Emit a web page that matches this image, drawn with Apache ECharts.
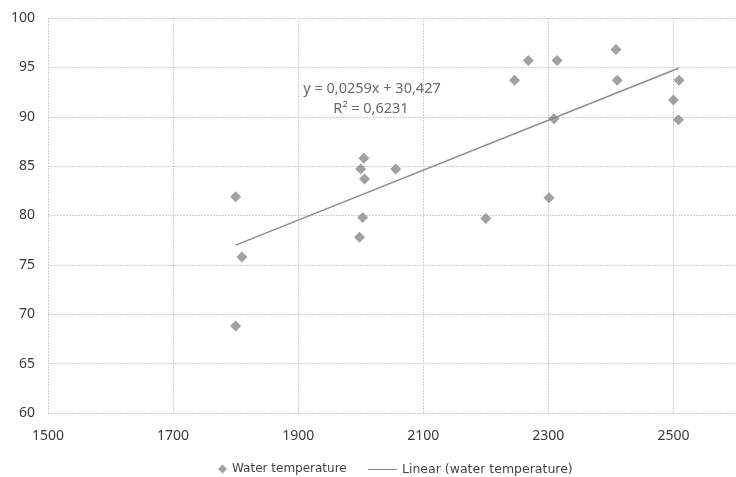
<!DOCTYPE html>
<html>
<head>
<meta charset="utf-8">
<script src="https://cdn.jsdelivr.net/npm/echarts@6/dist/echarts.min.js"></script>
<style>
html,body{margin:0;padding:0;background:#fff;}
#c{width:736px;height:477px;}
</style>
</head>
<body>
<div id="c"></div>
<script>
// Data
const seriesName = 'Water temperature';
const trendName = 'Linear (water temperature)';
const sizes = [1800, 1810, 1800, 2005, 2000, 2006, 2003, 1998, 2056, 2200, 2246, 2268, 2314, 2309, 2301, 2408, 2410, 2509, 2500, 2508];
const temps = [81.9, 75.8, 68.8, 85.8, 84.7, 83.7, 79.8, 77.8, 84.7, 79.7, 93.7, 95.7, 95.7, 89.8, 81.8, 96.8, 93.7, 93.7, 91.7, 89.7];
const trendX = [1800, 2508];
const trendY = [77.0, 94.9];
const equationText = 'y = 0,0259x + 30,427';
const r2Text = 'R² = 0,6231';
const xTicks = [1500, 1700, 1900, 2100, 2300, 2500];
const yTicks = [60, 65, 70, 75, 80, 85, 90, 95, 100];

const points = sizes.map((x, i) => [x, temps[i]]);
const trend = trendX.map((x, i) => [x, trendY[i]]);

const chart = echarts.init(document.getElementById('c'), null, {renderer: 'canvas'});
const font = 'Noto Sans';
const gridLine = {show: true, lineStyle: {color: '#cfcfcf', type: [2, 1], width: 1}};

chart.setOption({
  backgroundColor: '#ffffff',
  animation: false,
  grid: {left: 48, top: 18, right: -7, bottom: 64, containLabel: false},
  xAxis: {
    type: 'value',
    min: xTicks[0], max: 2600, interval: 200,
    axisLine: {show: false}, axisTick: {show: false},
    splitLine: gridLine,
    axisLabel: {color: '#3a3a3a', fontFamily: font, fontSize: 14, margin: 16, showMaxLabel: false,
      formatter: v => xTicks.includes(v) ? String(v) : ''}
  },
  yAxis: {
    type: 'value',
    min: yTicks[0], max: yTicks[yTicks.length - 1], interval: 5,
    axisLine: {show: false}, axisTick: {show: false},
    splitLine: gridLine,
    axisLabel: {color: '#3a3a3a', fontFamily: font, fontSize: 14, margin: 13}
  },
  legend: [
    {
      data: [{name: seriesName, icon: 'diamond'}],
      left: 213, top: 458, itemWidth: 9, itemHeight: 9, itemGap: 0,
      textStyle: {color: '#444', fontFamily: 'DejaVu Sans', fontSize: 12}
    },
    {
      data: [{name: trendName, icon: 'rect'}],
      left: 363, top: 458, itemWidth: 29, itemHeight: 1,
      textStyle: {color: '#444', fontFamily: 'DejaVu Sans', fontSize: 12.5}
    }
  ],
  series: [
    {
      name: seriesName, type: 'scatter', data: points,
      symbol: 'diamond', symbolSize: 11,
      itemStyle: {color: '#8a8a8a'}, z: 3
    },
    {
      name: trendName, type: 'line', data: trend,
      showSymbol: false, symbol: 'none',
      lineStyle: {color: '#8c8c8c', width: 1.6},
      itemStyle: {color: '#8c8c8c'}, z: 2
    }
  ],
  graphic: [
    {type: 'text', x: 372, y: 89, style: {text: equationText, fill: '#6a6a6a', font: '14.5px "Noto Sans"', align: 'center', verticalAlign: 'middle'}},
    {type: 'text', x: 371, y: 109, style: {text: r2Text, fill: '#6a6a6a', font: '14.5px "Noto Sans"', align: 'center', verticalAlign: 'middle'}}
  ]
});
</script>
</body>
</html>
